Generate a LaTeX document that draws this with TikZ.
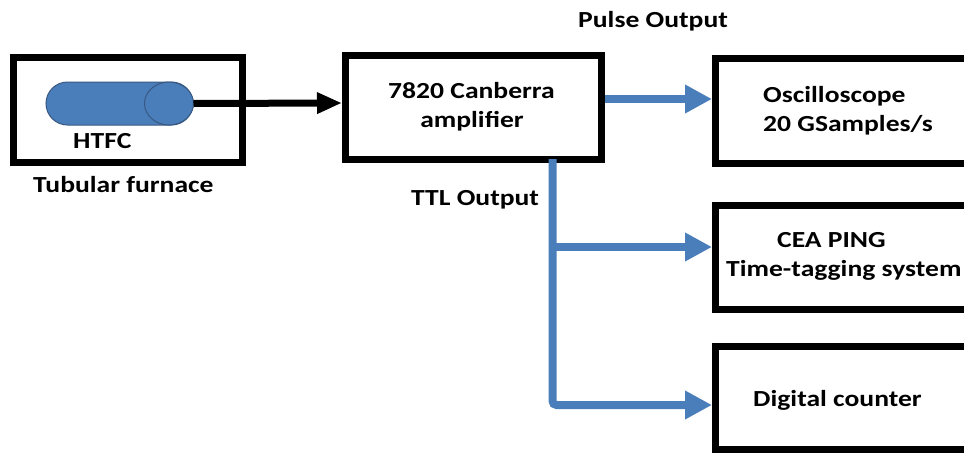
\documentclass[tikz,border=0pt]{standalone}
\usepackage{fontspec}
\newfontfamily\lbl{Carlito}[FakeStretch=1.2]
\usetikzlibrary{arrows.meta}
\definecolor{flowblue}{RGB}{74,126,187}
\definecolor{capedge}{RGB}{56,88,130}
\begin{document}
\begin{tikzpicture}[x=1pt,y=-1pt,
  box/.style={draw=black,line width=7pt,rectangle,inner sep=0pt,fill=white},
  txt/.style={anchor=base west,inner sep=0pt,font=\lbl\bfseries\fontsize{23}{28}\selectfont},
  blueflow/.style={draw=flowblue,line width=8pt,-{Triangle[length=27pt,width=27pt]}},
  blackflow/.style={draw=black,line width=7pt,-{Triangle[length=25pt,width=20pt]}}]
\useasboundingbox (0,0) rectangle (964,453);
\clip (0,0) rectangle (964,453);
% boxes
\node[box,minimum width=229pt,minimum height=105pt] (furnace) at (128,110) {};
\node[box,minimum width=256pt,minimum height=104pt] (amp) at (473.5,107.5) {};
\node[box,minimum width=270pt,minimum height=105pt] (osc) at (850.5,111) {};
\node[box,minimum width=270pt,minimum height=104pt] (cea) at (850.5,257.5) {};
\node[box,minimum width=270pt,minimum height=103pt] (dig) at (850.5,398) {};
% capsule
\node[draw=capedge,line width=1pt,fill=flowblue,rectangle,rounded corners=21.5pt,
      minimum width=147pt,minimum height=43pt,inner sep=0pt] (htfc) at (119.5,103.5) {};
\draw[capedge,line width=1pt,fill=flowblue] ([xshift=-24.5pt]htfc.east) ellipse [x radius=24.5, y radius=21.5];
% texts
\node[txt] (tpulse) at (578,27) {Pulse Output};
\node[txt] (tamp1) at (388,98) {7820 Canberra};
\node[txt,anchor=base] (tamp2) at (472,127) {amplifier};
\node[txt] (thtfc) at (73,148) {HTFC};
\node[txt] (tfurn) at (33,192) {Tubular furnace};
\node[txt] (tttl) at (411,205) {TTL Output};
\node[txt] (tosc1) at (763,102) {Oscilloscope};
\node[txt] (tosc2) at (763,131) {20 GSamples/s};
\node[txt] (tcea1) at (777,247) {CEA PING};
\node[txt] (tcea2) at (726,276) {Time-tagging system};
\node[txt] (tdig) at (753,406) {Digital counter};
% connectors
\draw[blackflow] (htfc.east) -- ([yshift=4.5pt]amp.west);
\draw[blueflow] ([yshift=8.5pt]amp.east) -- ([yshift=12pt]osc.west);
\coordinate (ttltop) at ([xshift=79pt,yshift=4pt]amp.south);
\coordinate (ceain) at ([yshift=10.5pt]cea.west);
\coordinate (digin) at ([yshift=-7pt]dig.west);
\coordinate (fork) at (ttltop |- ceain);
\draw[blueflow,rounded corners=4pt] (ttltop) |- (digin);
\draw[blueflow] ([xshift=-4pt]fork) -- (ceain);
\end{tikzpicture}
\end{document}
